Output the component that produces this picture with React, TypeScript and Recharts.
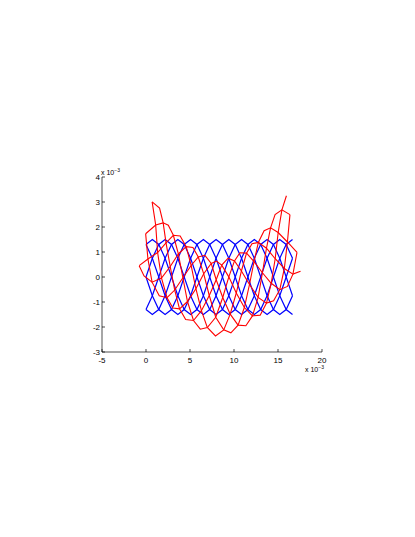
import React from 'react';
import { LineChart, Line, XAxis, YAxis } from 'recharts';

const X_TICKS = [-5, 0, 5, 10, 15, 20];
const Y_TICKS = [-3, -2, -1, 0, 1, 2, 3, 4];

// undeformed mesh: ring positions along x (x 1e-3)
const BLUE_RING_X = [
  0, 0.72, 1.45, 2.17, 2.9, 3.62, 4.34, 5.07, 5.79, 6.52, 7.24, 7.96,
  8.69, 9.41, 10.14, 10.86, 11.58, 12.31, 13.03, 13.76, 14.48, 15.2, 15.93, 16.65,
];
// node heights around a ring, 30 degree steps
const NODE_LEVELS = [1.5, 1.3, 0.75, 0, -0.75, -1.3, -1.5, -1.3, -0.75, 0, 0.75, 1.3];
const WIRES = [0, 1, 2, 3, 4, 5];

// deformed mesh: ring centres, axis angle (deg) and radius
const RED_CX = [
  -0.04, 0.66, 1.32, 2.02, 2.75, 3.47, 4.19, 4.92, 5.67, 6.43, 7.19, 7.95,
  8.72, 9.49, 10.26, 11.01, 11.76, 12.51, 13.23, 13.96, 14.68, 15.37, 16.07, 16.76,
];
const RED_CY = [
  1.73, 1.4, 0.98, 0.66, 0.42, 0.2, -0.03, -0.26, -0.47, -0.61, -0.74, -0.86,
  -0.82, -0.74, -0.64, -0.49, -0.3, -0.1, 0.17, 0.45, 0.73, 1.06, 1.4, 1.74,
];
const RED_AXIS_DEG = [
  -30, -33, -28, -20, -16, -16, -17, -16, -12, -10, -10, -2,
  5, 6, 9, 13, 15, 18, 21, 21, 23, 26, 26, 28,
];
const RED_RADIUS = [
  1.7, 1.62, 1.55, 1.5, 1.5, 1.5, 1.5, 1.5, 1.5, 1.5, 1.5, 1.5,
  1.5, 1.5, 1.5, 1.5, 1.5, 1.5, 1.5, 1.5, 1.55, 1.6, 1.65, 1.71,
];

const level = (j: number, k: number) => NODE_LEVELS[(1 + j + 2 * k) % NODE_LEVELS.length];

const blueWire = (k: number) => BLUE_RING_X.map((x, j) => ({ x, y: level(j, k) }));

const redWire = (k: number) =>
  RED_CX.map((cx, j) => {
    const a = (RED_AXIS_DEG[j] * Math.PI) / 180;
    const s = (level(j, k) / 1.5) * RED_RADIUS[j];
    return { x: cx - Math.sin(a) * s, y: RED_CY[j] + Math.cos(a) * s };
  });

const FONT = '"Liberation Sans", Arial, sans-serif';

const YTick = (props: any) => {
  const { x, y, payload } = props;
  return (
    <g>
      <line x1={x} x2={x + 3} y1={y} y2={y} stroke="#000" strokeWidth={0.7} />
      <text x={x - 2} y={y + 3} textAnchor="end" fontSize={8} fontFamily={FONT} fill="#000">
        {payload.value}
      </text>
    </g>
  );
};

const XTick = (props: any) => {
  const { x, y, payload } = props;
  return (
    <g>
      <line x1={x} x2={x} y1={y} y2={y - 3} stroke="#000" strokeWidth={0.7} />
      <text x={x} y={y + 11} textAnchor="middle" fontSize={8} fontFamily={FONT} fill="#000">
        {payload.value}
      </text>
    </g>
  );
};

export default function App() {
  return (
    <div style={{ position: 'absolute', left: 0, top: 0, width: 415, height: 537, background: '#fff' }}>
      <LineChart width={415} height={537} margin={{ top: 177, right: 93, bottom: 155, left: 0 }}>
        <XAxis
          type="number"
          dataKey="x"
          domain={[-5, 20]}
          ticks={X_TICKS}
          allowDataOverflow
          height={30}
          tickSize={0}
          tickMargin={0}
          tick={XTick}
          axisLine={{ stroke: '#000', strokeWidth: 0.7 }}
        />
        <YAxis
          type="number"
          dataKey="y"
          domain={[-3, 4]}
          ticks={Y_TICKS}
          allowDataOverflow
          width={102}
          tickSize={0}
          tickMargin={0}
          tick={YTick}
          axisLine={{ stroke: '#000', strokeWidth: 0.7 }}
        />
        {WIRES.map((k) => (
          <Line
            key={`b${k}`}
            data={blueWire(k)}
            dataKey="y"
            type="linear"
            stroke="#0000ff"
            strokeWidth={1.2}
            dot={false}
            activeDot={false}
            isAnimationActive={false}
          />
        ))}
        {WIRES.map((k) => (
          <Line
            key={`r${k}`}
            data={redWire(k)}
            dataKey="y"
            type="linear"
            stroke="#ff0000"
            strokeWidth={1.1}
            dot={false}
            activeDot={false}
            isAnimationActive={false}
          />
        ))}
      </LineChart>
      <svg width={415} height={537} style={{ position: 'absolute', left: 0, top: 0, pointerEvents: 'none' }}>
        <text x={101} y={175} fontSize={7} fontFamily={FONT} fill="#000">
          x 10<tspan dy={-3} fontSize={5}>−3</tspan>
        </text>
        <text x={305} y={372} fontSize={7} fontFamily={FONT} fill="#000">
          x 10<tspan dy={-3} fontSize={5}>−3</tspan>
        </text>
      </svg>
    </div>
  );
}
